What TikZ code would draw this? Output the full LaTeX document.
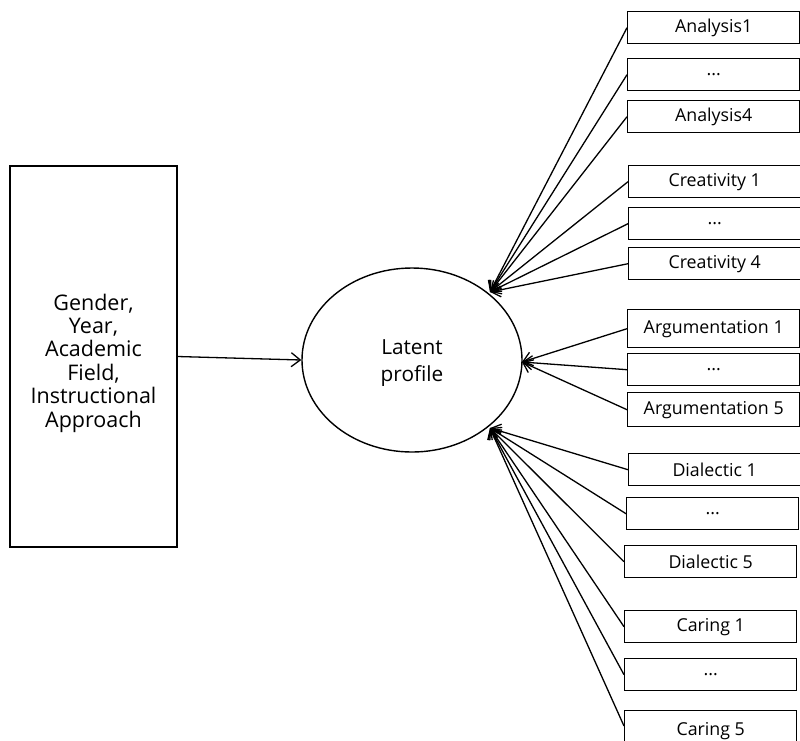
\documentclass[tikz,border=0pt]{standalone}
\usepackage{fontspec}
\setmainfont{Open Sans}
\usetikzlibrary{arrows.meta,shapes.geometric}
\tikzset{
  x=1pt,y=-1pt,
  ind/.style={draw,line width=1.4pt,rectangle,minimum width=172pt,minimum height=32pt,inner sep=0pt,anchor=north west,font=\fontsize{17.8}{19}\selectfont},
  cov/.style={draw,line width=1.4pt,rectangle,inner sep=0pt,align=center,font=\fontsize{21.5}{23.4}\selectfont},
  lat/.style={draw,line width=1.4pt,ellipse,inner sep=0pt,minimum width=220pt,minimum height=184pt,align=center,font=\fontsize{20.8}{27}\selectfont},
  arr/.style={-{Straight Barb[length=9pt,width=14pt,line width=1.3pt]},line width=1.3pt},
}
\begin{document}
\begin{tikzpicture}
\useasboundingbox (0,0) rectangle (800,740);
\begin{scope}
\clip (0,0) rectangle (800,740);
\node[cov,minimum width=167pt,minimum height=381pt] (R) at (93.5,356.5) {};
\node[align=center,inner sep=0pt,font=\fontsize{21.5}{23.4}\selectfont] (Rt) at (93.5,363) {Gender,\\Year,\\Academic\\Field,\\Instructional\\Approach};
\node[lat] (L) at (412,360) {};
\node[align=center,inner sep=0pt,font=\fontsize{20.8}{27}\selectfont] (Lt) at (412,363) {Latent\\profile};
\coordinate (tU) at (490,292);
\coordinate (tM) at (522,362);
\coordinate (tD) at (490,428);

\node[ind] (a1) at (627,11) {Analysis1};
\node[ind] (a2) at (627,58) {...};
\node[ind] (a3) at (627,100) {Analysis4};
\node[ind] (c1) at (628,165) {Creativity 1};
\node[ind] (c2) at (628,207) {...};
\node[ind] (c3) at (628,247) {Creativity 4};
\node[ind,minimum height=38pt] (g1) at (627,309) {Argumentation 1};
\node[ind] (g2) at (627,353) {...};
\node[ind,minimum height=34pt] (g3) at (627,392) {Argumentation 5};
\node[ind] (d1) at (628,453) {Dialectic 1};
\node[ind] (d2) at (626,497) {...};
\node[ind] (d3) at (624,545) {Dialectic 5};
\node[ind] (k1) at (624,610) {Caring 1};
\node[ind] (k2) at (624,658) {...};
\node[ind,minimum height=40pt] (k3) at (624,710) {\raisebox{-4pt}{Caring 5}};

\draw[arr] (R.east) -- (L.west);
\foreach \n in {a1,a2,a3,c1,c2,c3} \draw[arr] (\n.west) -- (tU);
\foreach \n in {g1,g2,g3} \draw[arr] (\n.west) -- (tM);
\foreach \n in {d1,d2,d3,k1,k2} \draw[arr] (\n.west) -- (tD);
\draw[arr] (k3.west |- 0,726) -- (tD);
\end{scope}
\end{tikzpicture}
\end{document}
